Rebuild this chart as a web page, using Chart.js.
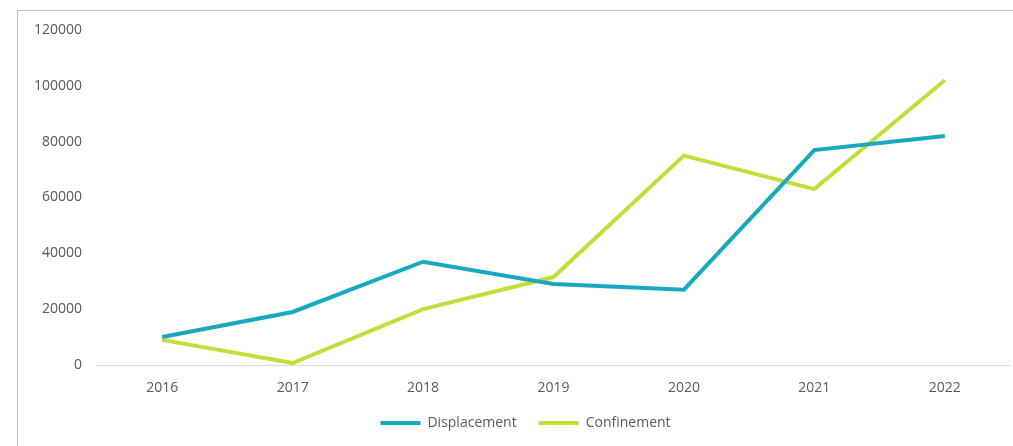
<!DOCTYPE html>
<html>
<head>
<meta charset="utf-8">
<script src="https://cdn.jsdelivr.net/npm/chart.js@4"></script>
<style>
  html, body { margin: 0; padding: 0; background: #fff; }
  #wrap { position: relative; width: 1013px; height: 446px; overflow: hidden; }
  #frame { position: absolute; left: 17px; top: 10px; right: -5px; bottom: -5px;
           border-left: 1px solid #bfbfbf; border-top: 1px solid #bfbfbf; }
  canvas { position: absolute; left: 0; top: 0; }
</style>
</head>
<body>
<div id="wrap">
  <div id="frame"></div>
  <canvas id="chart" width="1013" height="446"></canvas>
</div>
<script>
// years on the x axis
var years = ['2016', '2017', '2018', '2019', '2020', '2021', '2022'];
// values
var displacement = [10000, 19000, 37000, 29000, 27000, 77000, 82000];
var confinement = [9000, 700, 20000, 31500, 75000, 63000, 102000];
var yTicks = [0, 20000, 40000, 60000, 80000, 100000, 120000];

var teal = '#17a9bf';
var lime = '#c3de3b';
var txt = '#595959';

Chart.defaults.font.family = "'Open Sans', sans-serif";
Chart.defaults.font.size = 14;
Chart.defaults.color = txt;

// the legend in the picture sits a bit right of the canvas middle
var legendShift = {
    id: 'legendShift',
    afterLayout: function (chart) {
        chart.legend.left += 41;
    }
};

var ctx = document.getElementById('chart');
var chart = new Chart(ctx, {
    type: 'line',
    data: {
        labels: years,
        datasets: [{
            label: 'Displacement',
            data: displacement,
            borderColor: teal,
            backgroundColor: teal,
            borderWidth: 4,
            pointRadius: 0,
            tension: 0
        }, {
            label: 'Confinement',
            data: confinement,
            borderColor: lime,
            backgroundColor: lime,
            borderWidth: 4,
            pointRadius: 0,
            tension: 0
        }]
    },
    options: {
        responsive: false,
        animation: false,
        layout: { padding: { left: 0, right: 3, top: 30, bottom: 6 } },
        plugins: {
            tooltip: { enabled: false },
            legend: {
                position: 'bottom',
                labels: {
                    usePointStyle: true,
                    pointStyle: 'line',
                    pointStyleWidth: 40,
                    boxHeight: 14,
                    padding: 22,
                    color: txt
                }
            }
        },
        scales: {
            x: {
                offset: true,
                grid: { display: false, drawTicks: false },
                border: { display: true, color: '#d9d9d9', width: 1 },
                ticks: { padding: 15 },
                afterFit: function (s) { s.height = 29; }
            },
            y: {
                min: 0,
                max: 120000,
                afterBuildTicks: function (s) {
                    s.ticks = yTicks.map(function (v) { return { value: v }; });
                },
                grid: { display: false, drawTicks: false },
                border: { display: false },
                ticks: {
                    padding: 15,
                    callback: function (v) { return String(v); }
                },
                afterFit: function (s) { s.width = 97; }
            }
        }
    },
    plugins: [legendShift]
});
</script>
</body>
</html>
